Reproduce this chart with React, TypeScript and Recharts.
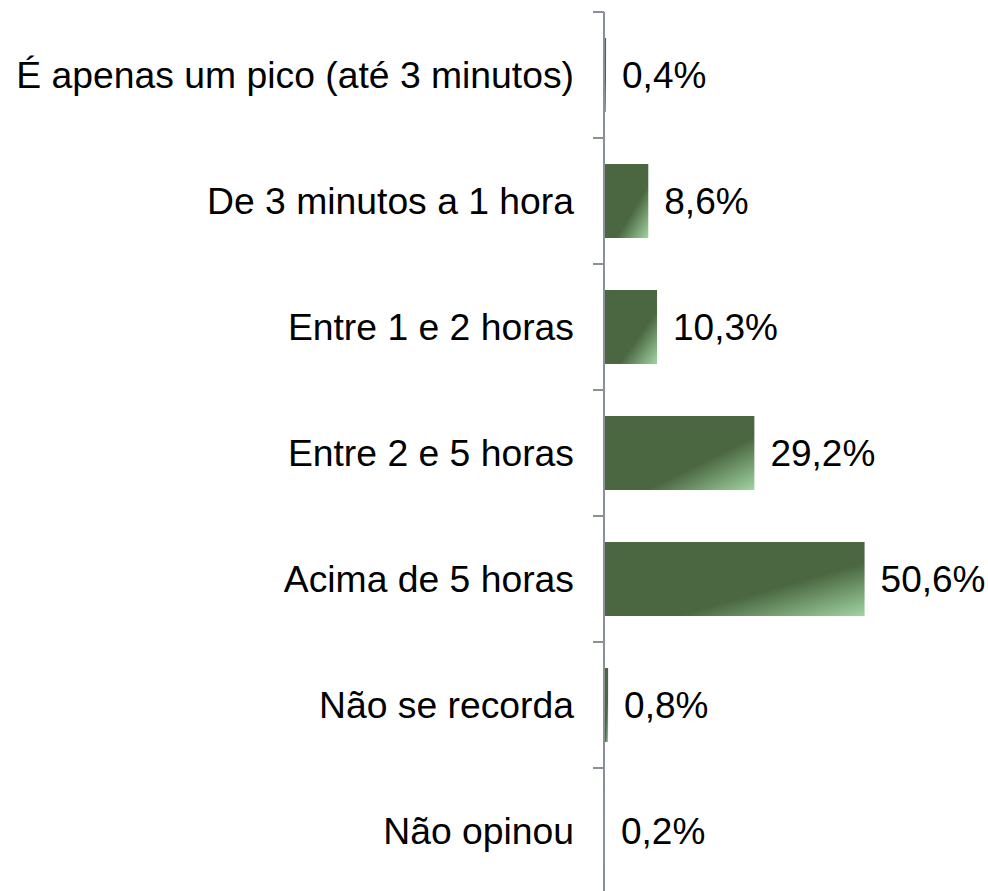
import React from "react";
import { BarChart, Bar, XAxis, YAxis, LabelList } from "recharts";

const categories = [
  "É apenas um pico (até 3 minutos)",
  "De 3 minutos a 1 hora",
  "Entre 1 e 2 horas",
  "Entre 2 e 5 horas",
  "Acima de 5 horas",
  "Não se recorda",
  "Não opinou",
];
const values = [0.4, 8.6, 10.3, 29.2, 50.6, 0.8, 0.2];

const data = categories.map((c, i) => ({ name: c, value: values[i] }));

const FONT = "'Liberation Sans', Arial, sans-serif";
const AXIS = "#8a9099";

const CategoryTick = (props: any) => {
  const { x, y, payload, index } = props;
  const half = 63;
  return (
    <g>
      <text
        x={x - 30}
        y={y}
        dy="0.355em"
        textAnchor="end"
        fontFamily={FONT}
        fontSize={37.3}
        fill="#000"
      >
        {payload.value}
      </text>
      <line x1={x - 11} x2={x} y1={y - half} y2={y - half} stroke={AXIS} strokeWidth={2} />
      {index === categories.length - 1 ? (
        <line x1={x - 11} x2={x} y1={y + half} y2={y + half} stroke={AXIS} strokeWidth={2} />
      ) : null}
    </g>
  );
};

const fmt = (v: any) => `${String(v).replace(".", ",")}%`;

export default function App() {
  return (
    <div style={{ position: "absolute", left: 0, top: 0, width: 988, height: 891, overflow: "hidden", background: "#fff" }}>
      <BarChart
        width={988}
        height={894}
        data={data}
        layout="vertical"
        margin={{ top: 12, right: 75, bottom: 0, left: 0 }}
        barCategoryGap="20.6%"
      >
        <XAxis type="number" domain={[0, 60]} hide />
        <YAxis
          type="category"
          dataKey="name"
          width={604}
          axisLine={{ stroke: AXIS, strokeWidth: 2 }}
          tickLine={false}
          tickSize={0}
          tickMargin={0}
          tick={<CategoryTick />}
          interval={0}
        />
        <defs>
          <linearGradient id="barGrad" x1="0" y1="0" x2="1" y2="1">
            <stop offset="0" stopColor="#4a6741" />
            <stop offset="0.64" stopColor="#4a6741" />
            <stop offset="1" stopColor="#a2d4a2" />
          </linearGradient>
        </defs>
        <Bar dataKey="value" fill="url(#barGrad)" isAnimationActive={false}>
          <LabelList
            dataKey="value"
            position="right"
            offset={16}
            formatter={fmt}
            style={{ fontFamily: FONT, fontSize: 37, fill: "#000" }}
          />
        </Bar>
      </BarChart>
    </div>
  );
}
